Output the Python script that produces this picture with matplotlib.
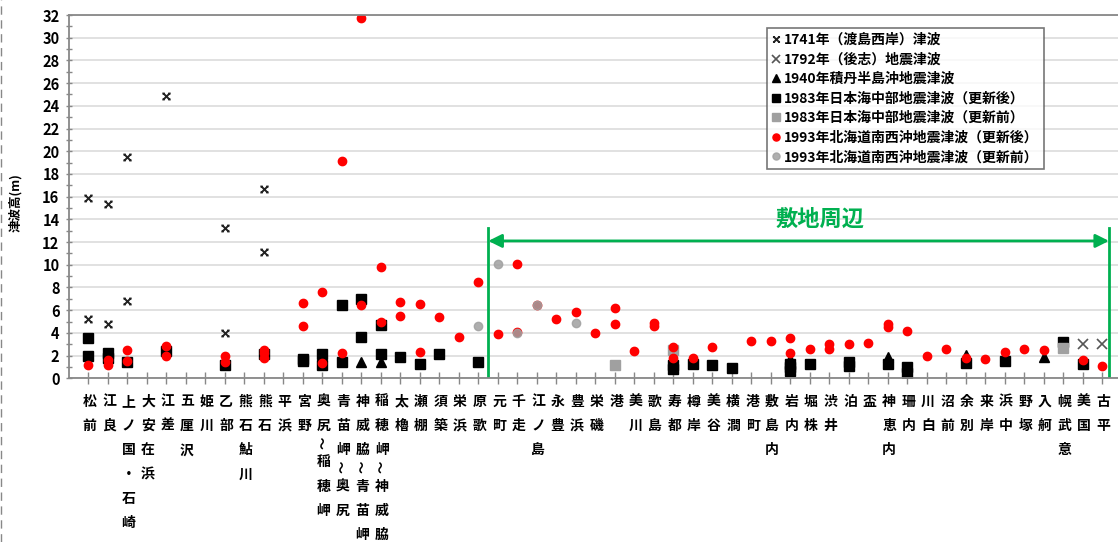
import numpy as np
from matplotlib import pyplot as plt
from matplotlib.path import Path
from matplotlib.lines import Line2D
from matplotlib.ticker import MultipleLocator
from matplotlib.transforms import blended_transform_factory

plt.rcParams['font.family'] = ['Noto Sans CJK JP', 'DejaVu Sans']

sites = ["松前", "江良", "上ノ国・石崎", "大安在浜", "江差", "五厘沢", "姫川", "乙部",
         "熊石鮎川", "熊石", "平浜", "宮野", "奥尻～稲穂岬", "青苗岬～奥尻",
         "神威脇～青苗岬", "稲穂岬～神威脇", "太櫓", "瀬棚", "須築", "栄浜", "原歌",
         "元町", "千走", "江ノ島", "永豊", "豊浜", "栄磯", "港", "美川", "歌島",
         "寿都", "樽岸", "美谷", "横澗", "港町", "敷島内", "岩内", "堀株", "渋井",
         "泊", "盃", "神恵内", "珊内", "川白", "沼前", "余別", "来岸", "浜中",
         "野塚", "入舸", "幌武意", "美国", "古平"]

# 1741年（渡島西岸）津波
t1741_site = ["松前", "松前", "江良", "江良", "上ノ国・石崎", "上ノ国・石崎", "江差",
              "乙部", "乙部", "熊石", "熊石"]
t1741_h = [15.9, 5.2, 15.35, 4.8, 19.5, 6.85, 24.85, 13.2, 4.0, 16.7, 11.1]

# 1792年（後志）地震津波
t1792_site = ["美国", "古平"]
t1792_h = [3.0, 3.0]

# 1940年積丹半島沖地震津波
t1940_site = ["神威脇～青苗岬", "稲穂岬～神威脇", "岩内", "神恵内", "余別", "入舸"]
t1940_h = [1.47, 1.44, 1.7, 1.9, 2.05, 1.9]

# 1983年日本海中部地震津波（更新後）
t1983_site = ["松前", "松前", "江良", "江良", "上ノ国・石崎", "江差", "乙部", "熊石",
              "宮野", "宮野", "奥尻～稲穂岬", "奥尻～稲穂岬", "青苗岬～奥尻", "青苗岬～奥尻",
              "神威脇～青苗岬", "神威脇～青苗岬", "稲穂岬～神威脇", "稲穂岬～神威脇",
              "太櫓", "瀬棚", "須築", "原歌", "寿都", "寿都", "樽岸", "美谷", "横澗",
              "岩内", "岩内", "岩内", "堀株", "泊", "泊", "神恵内", "珊内", "珊内",
              "余別", "浜中", "幌武意", "美国"]
t1983_h = [3.55, 1.95, 2.2, 1.8, 1.45, 2.4, 1.15, 2.1,
           1.7, 1.5, 2.15, 1.15, 6.5, 1.45,
           7.0, 3.65, 4.7, 2.1,
           1.9, 1.25, 2.15, 1.45, 1.15, 0.85, 1.3, 1.2, 0.95,
           1.3, 1.0, 0.6, 1.3, 1.45, 1.1, 1.3, 1.0, 0.45,
           1.35, 1.55, 3.2, 1.3]

# 1983年日本海中部地震津波（更新前）
t1983old_site = ["港", "寿都", "幌武意"]
t1983old_h = [1.15, 2.45, 2.7]

# 1993年北海道南西沖地震津波（更新後）
t1993_site = ["松前", "江良", "江良", "上ノ国・石崎", "上ノ国・石崎", "江差", "江差",
              "乙部", "乙部", "熊石", "熊石", "熊石", "宮野", "宮野",
              "奥尻～稲穂岬", "奥尻～稲穂岬", "青苗岬～奥尻", "青苗岬～奥尻",
              "神威脇～青苗岬", "神威脇～青苗岬", "稲穂岬～神威脇", "稲穂岬～神威脇",
              "太櫓", "太櫓", "瀬棚", "瀬棚", "須築", "栄浜", "原歌", "元町",
              "千走", "千走", "江ノ島", "永豊", "豊浜", "栄磯", "港", "港", "美川",
              "歌島", "歌島", "寿都", "寿都", "樽岸", "美谷", "港町", "敷島内",
              "岩内", "岩内", "堀株", "渋井", "渋井", "泊", "盃", "神恵内", "神恵内",
              "珊内", "川白", "沼前", "余別", "来岸", "浜中", "野塚", "入舸", "美国", "古平"]
t1993_h = [1.15, 1.65, 1.15, 2.45, 1.55, 2.85, 1.95,
           1.95, 1.45, 2.5, 2.2, 1.75, 6.65, 4.6,
           7.6, 1.35, 19.15, 2.25,
           31.7, 6.45, 9.8, 4.95,
           6.7, 5.5, 6.55, 2.3, 5.4, 3.65, 8.5, 3.9,
           10.05, 4.05, 6.45, 5.2, 5.8, 3.95, 6.15, 4.75, 2.4,
           4.9, 4.65, 2.8, 1.8, 1.8, 2.75, 3.3, 3.3,
           3.55, 2.2, 2.55, 3.05, 2.6, 3.0, 3.15, 4.8, 4.5,
           4.2, 1.95, 2.6, 1.75, 1.7, 2.3, 2.55, 2.5, 1.65, 1.1]

# 1993年北海道南西沖地震津波（更新前）
t1993old_site = ["原歌", "元町", "千走", "江ノ島", "豊浜"]
t1993old_h = [4.6, 10.05, 3.95, 6.45, 4.85]


def pos(names):
    return [sites.index(n) for n in names]


# x with small serifs at the arm ends, as used for the 1741 marks
s = 0.4
barx = Path([(-1, -1), (1, 1), (-1, 1), (1, -1),
             (-1 - s, 1), (-1 + s, 1), (1 - s, 1), (1 + s, 1),
             (-1 - s, -1), (-1 + s, -1), (1 - s, -1), (1 + s, -1)],
            [Path.MOVETO, Path.LINETO] * 6)

W, H = 1118, 542
fig = plt.figure(figsize=(W / 100, H / 100), dpi=100)
ax = fig.add_axes([68.5 / W, (H - 378.3) / H, (W - 68.5) / W, (378.3 - 15) / H])

ax.plot(pos(t1741_site), t1741_h, ls='none', marker=barx, ms=6, mfc='none', mec='#222222', mew=1.4,
        label="1741年（渡島西岸）津波")
ax.plot(pos(t1792_site), t1792_h, ls='none', marker='x', ms=7, mec='#555555', mew=1.2,
        label="1792年（後志）地震津波")
ax.plot(pos(t1940_site), t1940_h, ls='none', marker='^', ms=6.5, color='black',
        label="1940年積丹半島沖地震津波")
ax.plot(pos(t1983_site), t1983_h, ls='none', marker='s', ms=6.5, color='black',
        label="1983年日本海中部地震津波（更新後）")
ax.plot(pos(t1983old_site), t1983old_h, ls='none', marker='s', ms=6.5, color='#a0a0a0',
        label="1983年日本海中部地震津波（更新前）")
ax.plot(pos(t1993_site), t1993_h, ls='none', marker='o', ms=6, color='#ff0000',
        label="1993年北海道南西沖地震津波（更新後）")
ax.plot(pos(t1993old_site), t1993old_h, ls='none', marker='o', ms=6, color='#a0a0a0', alpha=0.85,
        label="1993年北海道南西沖地震津波（更新前）")

ax.set_xlim(-1, -1 + (W - 68.5) / 19.5)
ax.set_ylim(0, 32)
ax.set_yticks(range(0, 33, 2))
ax.yaxis.set_minor_locator(MultipleLocator(1))
ax.yaxis.grid(True, which='major', color='#dedede', lw=1.3)
ax.set_axisbelow(True)
ax.set_xticks(range(len(sites)))
ax.set_xticklabels([])
ax.tick_params(axis='x', direction='inout', length=8, width=1, color='#888888')
ax.tick_params(axis='y', which='both', direction='inout', length=5, width=1, color='#888888',
               labelsize=10.5, pad=4)
for t in ax.get_yticklabels():
    t.set_fontweight('bold')
for side in ['left', 'bottom', 'top']:
    ax.spines[side].set_color('#888888')
    ax.spines[side].set_linewidth(1.3)
ax.spines['right'].set_visible(False)

# site names written vertically, one character per row
trans = blended_transform_factory(ax.transData, fig.transFigure)
for i, name in enumerate(sites):
    cur = 401.7
    for k, ch in enumerate(name):
        if ch == '～':
            ax.text(i + 0.08, (H - cur) / H, ch, transform=trans, fontsize=9, rotation=90,
                    ha='center', va='center', fontweight='bold', clip_on=False)
            cur += 20
        else:
            ax.text(i + 0.08, (H - cur) / H, ch, transform=trans, fontsize=10,
                    ha='center', va='center', fontweight='bold', clip_on=False)
            if k + 1 < len(name) and name[k + 1] == '～':
                cur += 16.5
            else:
                cur += 24.3

# 敷地周辺 range
green = '#00b050'
ax.plot([20.53, 20.53], [0, 13.2], color=green, lw=2)
ax.plot([52.36, 52.36], [0, 13.2], color=green, lw=2)
ax.annotate('', xy=(20.53, 12.1), xytext=(52.36, 12.1),
            arrowprops=dict(arrowstyle='<|-|>', color=green, lw=2, shrinkA=0, shrinkB=0,
                            mutation_scale=20))
ax.text(37.54, 14.0, "敷地周辺", color=green, fontsize=16, fontweight='bold',
        ha='center', va='center')

leg = ax.legend(loc='upper left', bbox_to_anchor=(767 / W, (H - 28) / H),
                bbox_transform=fig.transFigure, fontsize=10, frameon=True, fancybox=False,
                edgecolor='#555555', borderaxespad=0, borderpad=0.35, labelspacing=0.4,
                handlelength=0.6, handletextpad=0.3, markerscale=0.85)
leg.get_frame().set_linewidth(1.2)
for t in leg.get_texts():
    t.set_fontweight('bold')

fig.text(15 / W, (H - 203) / H, "津波高(m)", rotation=90, fontsize=9, fontweight='bold',
         ha='center', va='center')
fig.add_artist(Line2D([1.5 / W, 1.5 / W], [0, 1], transform=fig.transFigure,
                      color='#888888', lw=1, ls=(0, (6, 4))))

fig.savefig('out.png', dpi=100)
